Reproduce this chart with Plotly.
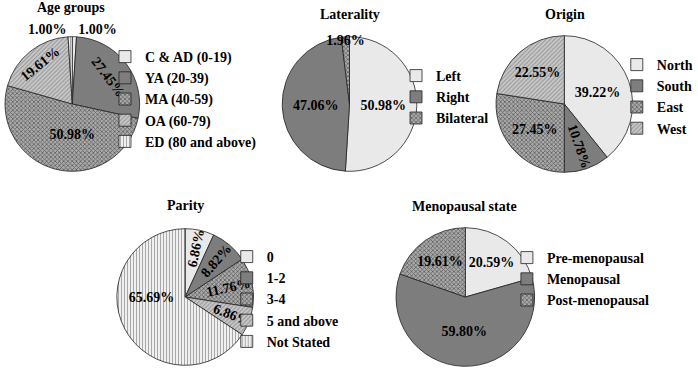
import plotly.graph_objects as go

W, H = 698, 368

age_labels = ["C & AD (0-19)", "YA (20-39)", "MA (40-59)", "OA (60-79)", "ED (80 and above)"]
age_values = [1.00, 27.45, 50.98, 19.61, 1.00]

lat_labels = ["Left", "Right", "Bilateral"]
lat_values = [50.98, 47.06, 1.96]

origin_labels = ["North", "South", "East", "West"]
origin_values = [39.22, 10.78, 27.45, 22.55]

parity_labels = ["0", "1-2", "3-4", "5 and above", "Not Stated"]
parity_values = [6.86, 8.82, 11.76, 6.86, 65.69]

meno_labels = ["Pre-menopausal", "Menopausal", "Post-menopausal"]
meno_values = [20.59, 59.80, 19.61]

FONT = "Liberation Serif"

# pattern styles
STY = {
    "light": dict(color="#ececec", shape=".", fg="#d8d8d8", bg="#efefef", size=2, sol=0.3),
    "dark": dict(color="#7d7d7d", shape=".", fg="#6e6e6e", bg="#828282", size=2, sol=0.3),
    "check": dict(color="#8c8c8c", shape="x", fg="#5e5e5e", bg="#aaaaaa", size=3, sol=0.45),
    "diag": dict(color="#bdbdbd", shape="/", fg="#9a9a9a", bg="#cacaca", size=3, sol=0.4),
    "vert": dict(color="#dddddd", shape="|", fg="#a8a8a8", bg="#ffffff", size=3, sol=0.45),
}


def marker(styles):
    return dict(
        colors=[STY[s]["color"] for s in styles],
        line=dict(color="#222222", width=0.8),
        pattern=dict(
            shape=[STY[s]["shape"] for s in styles],
            fgcolor=[STY[s]["fg"] for s in styles],
            bgcolor=[STY[s]["bg"] for s in styles],
            size=[STY[s]["size"] for s in styles],
            solidity=[STY[s]["sol"] for s in styles],
            fillmode="replace",
        ),
    )


def dom(cx, cy, r):
    return dict(x=[(cx - r) / W, (cx + r) / W], y=[1 - (cy + r) / H, 1 - (cy - r) / H])


def pct(vals):
    return [f"{v:.2f}%" for v in vals]


TF = dict(family=FONT, size=14, color="black", weight="bold")

fig = go.Figure()

fig.add_trace(go.Pie(
    labels=age_labels, values=age_values, text=pct(age_values), textinfo="text",
    sort=False, direction="clockwise", rotation=0,
    domain=dom(69, 104, 68),
    marker=marker(["light", "dark", "check", "diag", "vert"]),
    textposition=["outside", "inside", "inside", "inside", "outside"],
    insidetextorientation="tangential",
    textfont=TF,
    outsidetextfont=dict(family=FONT, size=13, color="black", weight="bold"),
    legend="legend",
))
fig.add_trace(go.Pie(
    labels=lat_labels, values=lat_values, text=pct(lat_values), textinfo="text",
    sort=False, direction="clockwise", rotation=0,
    domain=dom(349, 104, 68),
    marker=marker(["light", "dark", "check"]),
    textposition="inside", insidetextorientation="horizontal",
    textfont=TF,
    legend="legend2",
))
fig.add_trace(go.Pie(
    labels=origin_labels, values=origin_values, text=pct(origin_values), textinfo="text",
    sort=False, direction="clockwise", rotation=0,
    domain=dom(566, 104, 69),
    marker=marker(["light", "dark", "check", "diag"]),
    textposition="inside", insidetextorientation="auto",
    textfont=TF,
    legend="legend3",
))
fig.add_trace(go.Pie(
    labels=parity_labels, values=parity_values, text=pct(parity_values), textinfo="text",
    sort=False, direction="clockwise", rotation=0,
    domain=dom(183, 297, 69),
    marker=marker(["light", "dark", "check", "diag", "vert"]),
    textposition="inside", insidetextorientation="radial",
    textfont=TF,
    legend="legend4",
))
fig.add_trace(go.Pie(
    labels=meno_labels, values=meno_values, text=pct(meno_values), textinfo="text",
    sort=False, direction="clockwise", rotation=0,
    domain=dom(466, 297, 70),
    marker=marker(["light", "dark", "check"]),
    textposition="inside", insidetextorientation="auto",
    textfont=TF,
    legend="legend5",
))

titles = [("Age groups", 68, 7), ("Laterality", 350, 14), ("Origin", 567, 14),
          ("Parity", 183, 205), ("Menopausal state", 465, 206)]
for t, x, y in titles:
    fig.add_annotation(text=t, x=x / W, y=1 - y / H, xref="paper", yref="paper",
                       showarrow=False, xanchor="center", yanchor="middle",
                       font=dict(family=FONT, size=14, color="black", weight="bold"))


def leg(x, y):
    return dict(x=x / W, y=1 - y / H, xanchor="left", yanchor="top",
                bgcolor="rgba(0,0,0,0)",
                font=dict(family=FONT, size=14, color="black", weight="bold"),
                traceorder="normal", itemclick=False)


fig.update_layout(
    width=W, height=H, margin=dict(l=0, r=0, t=0, b=0),
    paper_bgcolor="white", plot_bgcolor="white",
    uniformtext=dict(minsize=14, mode="show"),
    legend=leg(102, 41),
    legend2=leg(396, 60),
    legend3=leg(619, 49),
    legend4=leg(225, 241),
    legend5=leg(508, 242),
    font=dict(family=FONT),
)

fig.write_html("out.html")
